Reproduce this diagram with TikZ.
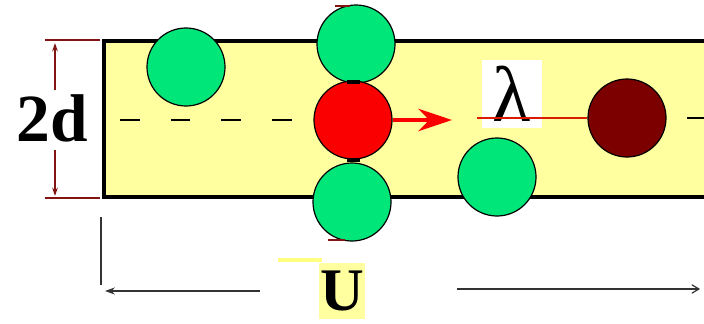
\documentclass[tikz,border=0pt]{standalone}
\usepackage{fontspec}
\setmainfont{Liberation Serif}
\usetikzlibrary{arrows.meta}

\definecolor{chanyellow}{RGB}{255,255,160}
\definecolor{ballgreen}{RGB}{0,230,120}
\definecolor{ballred}{RGB}{250,0,0}
\definecolor{balldark}{RGB}{125,0,0}
\definecolor{dimred}{RGB}{130,20,20}

\begin{document}
\begin{tikzpicture}[x=0.025cm,y=-0.025cm,line width=0.2mm,
	ball/.style={circle, draw=black, line width=0.3mm, minimum size=1.95cm, inner sep=0pt}]
	\def\ytop{41}     % upper wall
	\def\ybot{197}    % lower wall

\useasboundingbox (0,0) rectangle (704,323);

% channel
\fill[chanyellow] (104,\ytop) rectangle (704,\ybot);
\draw[black, line width=1mm] (704,\ytop) -- (104,\ytop) -- (104,\ybot) -- (704,\ybot);

% centre line
\draw[black, line width=0.4mm, dash pattern=on 14 off 22] (120,120) -- (345,120);
\coordinate (dend) at (704,118);
\coordinate (dstart) at (687,118);
\draw[black, line width=0.4mm] (dstart) -- (dend);

% particles
\node[ball, fill=ballgreen] (g1) at (186,67) {};
\node[ball, fill=ballgreen] (g2) at (356,44) {};
\node[ball, fill=ballgreen] (g3) at (352,202) {};
\node[ball, fill=ballgreen] (g4) at (497,177) {};
\node[ball, fill=ballred]   (rd) at (353,120) {};
\node[ball, fill=balldark]  (dk) at (627,118) {};

% small marks
\draw[black, line width=1mm] (347,82) -- (360,82);
\draw[black, line width=1mm] (347,160) -- (360,160);
\draw[dimred, line width=0.4mm] (335,6) -- (350,6);
\draw[dimred, line width=0.4mm] (328,240) -- (345,240);

% velocity
\coordinate (tip) at (452,120);
\draw[ballred, line width=1mm, -{Stealth[length=24pt,width=16pt]}] (rd.east) -- (tip);

% free path
\node[fill=white, minimum width=1.475cm, minimum height=1.7cm, inner sep=0pt,
      font=\fontsize{56}{56}\selectfont] (lam) at (512,94) {λ};
\coordinate (lstart) at (477,118);
\draw[red!75!orange!85!black, line width=0.7mm] (lstart) -- (dk.west);

% width 2d
\node[font=\fontsize{48}{48}\selectfont\bfseries] (wd) at (52,118) {2d};
\coordinate (wt1) at (45,40);
\coordinate (wt2) at (100,40);
\coordinate (wb1) at (45,198);
\coordinate (wb2) at (100,198);
\draw[dimred, line width=0.3mm] (wt1) -- (wt2);
\draw[dimred, line width=0.3mm] (wb1) -- (wb2);
\draw[dimred, line width=0.4mm, -{Stealth[length=6pt,width=4pt]}] (55,90) -- (55,43);
\draw[dimred, line width=0.4mm, -{Stealth[length=6pt,width=4pt]}] (55,150) -- (55,196);

% speed U
\draw[black!80, line width=0.3mm] (101,217) -- (101,285);
\draw[chanyellow!80!yellow, line width=0.8mm] (278,260) -- (322,260);
\node[fill=chanyellow, minimum width=1.125cm, minimum height=1.42cm, inner sep=0pt,
      font=\fontsize{43}{43}\selectfont\bfseries] (uu) at (342,291) {U};
\coordinate (al1) at (260,291);
\coordinate (al2) at (105,291);
\coordinate (ar1) at (457,289);
\coordinate (ar2) at (700,289);
\draw[black!80, line width=0.3mm, -{Stealth[length=7pt,width=5pt]}] (al1) -- (al2);
\draw[black!80, line width=0.3mm, -{Straight Barb[length=5pt,width=6pt]}] (ar1) -- (ar2);

\end{tikzpicture}
\end{document}
